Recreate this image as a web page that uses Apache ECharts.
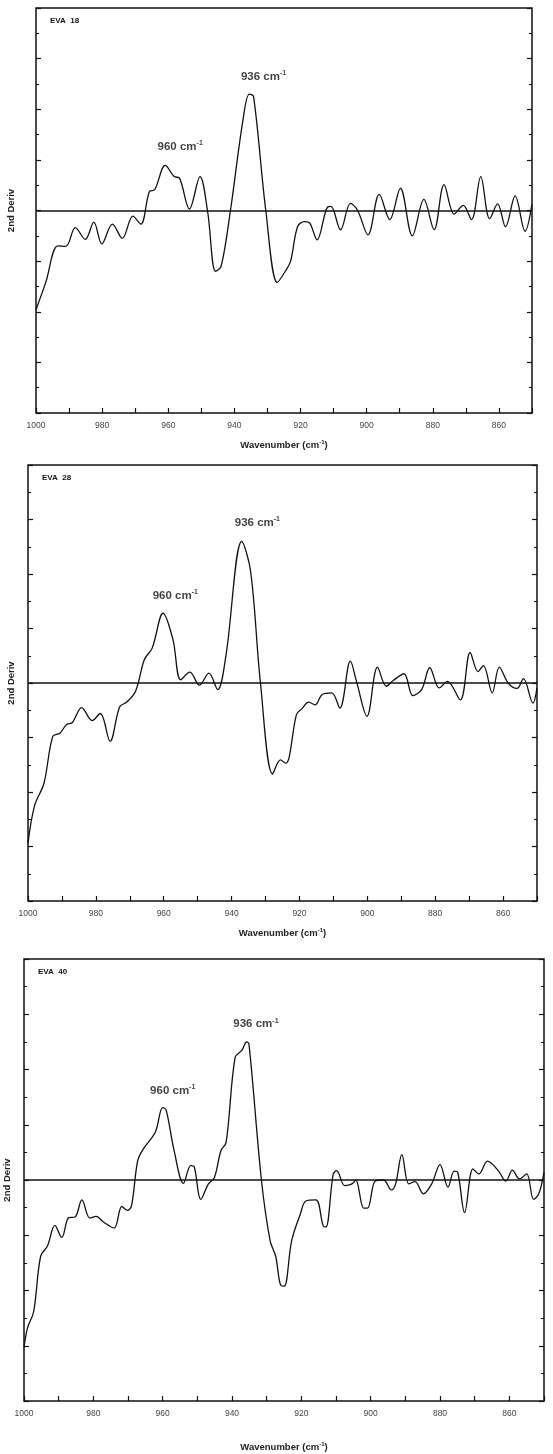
<!DOCTYPE html>
<html><head><meta charset="utf-8">
<script src="https://cdn.jsdelivr.net/npm/echarts@6/dist/echarts.min.js"></script>
<style>html,body{margin:0;padding:0;background:#fff}#c{width:553px;height:1454px}</style>
</head><body><div id="c"></div>
<script>
const titles = ['EVA  18', 'EVA  28', 'EVA  40'];
const eva18 = [[1000,-1.96],[997.1,-1.43],[993.4,-0.70],[991,-0.71],[988.1,-0.34],[985.1,-0.57],[982.5,-0.23],[980.1,-0.66],[976.9,-0.27],[973.9,-0.55],[970.7,-0.11],[968.3,-0.27],[965.7,0.375],[964.1,0.41],[960.9,0.89],[958.2,0.67],[956.6,0.64],[953.6,0.03],[950.4,0.67],[948.1,-0.02],[945.7,-1.2],[944.0,-1.1],[941.2,0.0],[937.4,1.79],[935.5,2.30],[934.2,2.25],[930.5,0.0],[927.0,-1.42],[924.6,-1.2],[923.0,-1.0],[920.9,-0.32],[918.8,-0.22],[917.2,-0.25],[915.0,-0.58],[911.8,0.07],[910.8,0.08],[907.9,-0.38],[904.9,0.14],[902.8,0.01],[899.6,-0.48],[896.2,0.32],[893.0,-0.18],[889.8,0.44],[886.2,-0.5],[882.7,0.22],[879.6,-0.38],[876.6,0.51],[873.5,-0.07],[870.8,0.1],[868.3,-0.18],[865.5,0.67],[862.8,-0.16],[860.4,0.13],[858.0,-0.32],[855.1,0.29],[852.1,-0.41],[850,0.13]];
const eva28 = [[1000,-2.94],[998.1,-2.26],[995.3,-1.84],[992.7,-0.98],[990.6,-0.92],[988.6,-0.76],[987.0,-0.73],[984.2,-0.45],[981.1,-0.69],[978.7,-0.56],[975.8,-1.07],[973.0,-0.44],[970.9,-0.35],[968.3,-0.15],[965.7,0.43],[963.4,0.64],[960.2,1.28],[957.3,0.80],[955.0,0.06],[952.3,0.20],[949.5,-0.04],[946.7,0.18],[944.1,-0.12],[941.7,0.49],[937.0,2.60],[934.4,2.05],[931.5,0.0],[927.9,-1.67],[925.6,-1.41],[924.0,-1.47],[923.0,-1.35],[920.9,-0.58],[919.4,-0.48],[917.3,-0.35],[915.4,-0.40],[913.3,-0.21],[910.5,-0.18],[908.1,-0.46],[905.0,0.40],[903.2,0.03],[900.1,-0.61],[897.0,0.29],[894.4,-0.06],[892.3,0.05],[889.2,0.17],[886.6,-0.23],[884.0,-0.12],[881.6,0.28],[878.8,-0.09],[876.4,0.03],[872.6,-0.31],[869.7,0.56],[867.4,0.21],[865.8,0.32],[863.2,-0.18],[861.1,0.29],[858.5,0.0],[855.9,-0.10],[854.0,0.08],[851.2,-0.37],[850,-0.09]];
const eva40 = [[1000,-3.03],[999,-2.68],[997.2,-2.38],[995.2,-1.38],[993.2,-1.19],[991.1,-0.82],[989.1,-1.04],[987.1,-0.68],[985.3,-0.67],[983.3,-0.36],[981.0,-0.69],[979.2,-0.66],[976.9,-0.77],[974.0,-0.87],[971.8,-0.48],[970.2,-0.55],[969.0,-0.47],[967.2,0.35],[965.6,0.56],[962.1,0.87],[960.0,1.31],[959.0,1.27],[956.7,0.53],[954.0,-0.06],[951.9,0.26],[950.9,0.24],[949.0,-0.35],[946.8,-0.07],[945.1,0.04],[943.2,0.53],[941.7,0.68],[939.1,2.22],[937.1,2.35],[935.8,2.50],[935.1,2.46],[931.5,-0.01],[929.0,-1.10],[927.4,-1.38],[925.9,-1.91],[924.9,-1.92],[922.8,-1.10],[920.3,-0.62],[918.7,-0.38],[915.8,-0.36],[913.7,-0.83],[912.9,-0.85],[910.8,0.11],[909.8,0.17],[907.5,-0.10],[905.4,-0.07],[904.3,0.0],[902.0,-0.51],[900.9,-0.51],[898.7,-0.02],[896.3,0.0],[894.0,-0.18],[892.8,-0.07],[891.0,0.46],[889.0,-0.07],[887.2,-0.03],[884.8,-0.25],[882.4,-0.07],[880.0,0.28],[877.7,-0.13],[875.9,0.16],[874.9,0.14],[872.9,-0.59],[870.5,0.20],[868.8,0.11],[866.3,0.34],[863.2,0.17],[861.0,-0.02],[859.1,0.18],[857.1,0.02],[855.0,0.11],[853.0,-0.35],[851.5,-0.25],[850,0.14]];
const peakLabels = [
  [[956.4,1.26],[931.2,2.64]],
  [[956.6,1.60],[932.4,2.94]],
  [[957.1,1.62],[933.1,2.82]]
];
const xTickLabels = [1000,980,960,940,920,900,880,860];
const seriesData = [eva18, eva28, eva40];

const grids = [
  {left:36, width:496, top:8, height:405},
  {left:28, width:509, top:465, height:436},
  {left:24, width:520, top:959, height:442}
];
const font = '"Liberation Sans", Arial, sans-serif';
const opt = {animation:false, grid:[], xAxis:[], yAxis:[], series:[], graphic:[]};
grids.forEach((g,i)=>{
  opt.grid.push(Object.assign({show:true, borderColor:'#111', borderWidth:1.5, backgroundColor:'transparent',
    containLabel:false, outerBoundsMode:'none'}, g));
  opt.xAxis.push({type:'value', gridIndex:i, inverse:true, min:850, max:1000, interval:10, position:'bottom',
    axisLine:{show:false, onZero:false}, splitLine:{show:false},
    axisTick:{inside:true, length:5, lineStyle:{color:'#111', width:1.2}},
    axisLabel:{fontFamily:font, fontSize:8.5, color:'#444', margin:8,
      formatter:v=> xTickLabels.includes(v)? String(v):''},
    name:'Wavenumber (cm{s|-1})', nameLocation:'middle', nameGap:i===2?40:26,
    nameTextStyle:{fontFamily:font, fontSize:9.5, fontWeight:'bold', color:'#222',
      rich:{s:{fontSize:6, fontWeight:'bold', verticalAlign:'top', padding:[0,0,6,0], color:'#222'}}}});
  const yBase = {type:'value', gridIndex:i, min:-4, max:4, interval:1,
    axisLine:{show:false, onZero:false}, splitLine:{show:false}, axisLabel:{show:false},
    axisTick:{inside:true, length:5, lineStyle:{color:'#111', width:1.2}},
    minorTick:{show:true, splitNumber:2, length:3, lineStyle:{color:'#111', width:1}}};
  opt.yAxis.push(Object.assign({}, yBase, {position:'left', name:'2nd Deriv', nameLocation:'middle',
    nameGap:i===0?20:12, nameTextStyle:{fontFamily:font, fontSize:9.5, fontWeight:'bold', color:'#222'}}));
  opt.yAxis.push(Object.assign({}, yBase, {position:'right'}));
  opt.series.push({type:'line', xAxisIndex:i, yAxisIndex:2*i, data:seriesData[i], smooth:0.35,
    showSymbol:false, lineStyle:{color:'#111', width:1.3},
    markLine:{silent:true, symbol:'none', label:{show:false}, lineStyle:{color:'#111', width:1.5, type:'solid'},
      data:[{yAxis:0}]}});
  opt.series.push({type:'scatter', xAxisIndex:i, yAxisIndex:2*i, symbolSize:0,
    data:peakLabels[i].map((p,k)=>({value:p, name:k===0?'960':'936'})),
    label:{show:true, position:'inside', fontFamily:font, fontSize:11.5, fontWeight:'bold', color:'#111',
      formatter:p=>p.name+' cm{s|-1}', rich:{s:{fontSize:7, fontWeight:'bold', verticalAlign:'top', padding:[0,0,7,0], color:'#111'}}}});
  opt.graphic.push({type:'text', left:g.left+14, top:g.top+9,
    style:{text:titles[i], font:'bold 8px '+font, fill:'#111'}});
});
const ch = echarts.init(document.getElementById('c'));
ch.setOption(opt);
</script></body></html>
